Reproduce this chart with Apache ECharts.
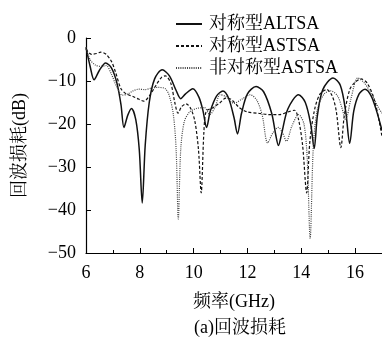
<!DOCTYPE html>
<html>
<head>
<meta charset="utf-8">
<script src="https://cdn.jsdelivr.net/npm/echarts@6/dist/echarts.min.js"></script>
<style>html,body{margin:0;padding:0;background:#fff}#c{width:382px;height:345px}</style>
</head>
<body>
<div id="c"></div>
<script>
var seriesNames = ['对称型ALTSA', '对称型ASTSA', '非对称型ASTSA'];
var xTicks = [6, 8, 10, 12, 14, 16];
var yTicks = [0, -10, -20, -30, -40, -50];

var altsaFreq = [6.0, 6.15, 6.3, 6.5, 6.73, 6.95, 7.15, 7.3, 7.41, 7.55, 7.69, 7.85, 7.98, 8.09, 8.2, 8.35, 8.55, 8.83, 9.1, 9.35, 9.52, 9.7, 9.97, 10.2, 10.35, 10.48, 10.62, 10.85, 11.09, 11.3, 11.5, 11.63, 11.78, 12.0, 12.32, 12.6, 12.9, 13.05, 13.15, 13.28, 13.5, 13.9, 14.15, 14.35, 14.48, 14.6, 14.8, 15.18, 15.45, 15.65, 15.8, 15.95, 16.15, 16.37, 16.6, 16.8, 17.0];
var altsaRL = [-2.2, -6.5, -9.7, -7.5, -5.8, -7.0, -10.5, -15.5, -20.8, -18.0, -16.4, -19.0, -26, -38.4, -25, -15, -9.5, -7.4, -8.8, -12.2, -14.1, -13.0, -11.8, -13.8, -17, -20.8, -17, -13.5, -12.3, -14, -18.5, -22.3, -17.5, -13, -11.3, -12.5, -17.5, -22.5, -25.0, -22, -16.5, -13.2, -15, -20, -25.7, -18, -12, -9.3, -11, -17, -24.5, -17, -13, -11.9, -13.5, -17, -21.5];

var astsaFreq = [6.0, 6.2, 6.4, 6.55, 6.75, 6.95, 7.1, 7.3, 7.5, 7.75, 7.95, 8.15, 8.35, 8.6, 8.8, 8.95, 9.15, 9.3, 9.42, 9.55, 9.72, 9.9, 10.05, 10.18, 10.28, 10.38, 10.47, 10.7, 10.95, 11.2, 11.4, 11.7, 12.0, 12.4, 12.8, 13.2, 13.5, 13.75, 13.9, 14.05, 14.2, 14.32, 14.5, 14.7, 14.95, 15.15, 15.3, 15.47, 15.6, 15.8, 16.0, 16.22, 16.45, 16.7, 16.9, 17.0];
var astsaRL = [-2.6, -3.8, -3.6, -3.3, -3.8, -5.5, -8.0, -11.8, -13.0, -13.6, -14.2, -14.7, -13.5, -11.0, -9.2, -8.8, -10.5, -15, -17.5, -16, -15.3, -16.5, -19.5, -26, -36, -22, -17, -16.3, -15.2, -14, -14.3, -16.2, -17.2, -17.5, -17.8, -17.8, -17.2, -16.8, -19, -25, -36, -24, -16.5, -13, -12, -13.5, -17, -25.5, -18, -12, -10.3, -9.5, -10.5, -14, -19.5, -23];

var asymFreq = [6.0, 6.15, 6.35, 6.55, 6.75, 6.95, 7.15, 7.35, 7.55, 7.75, 7.95, 8.2, 8.45, 8.7, 8.95, 9.1, 9.25, 9.35, 9.43, 9.52, 9.65, 9.85, 10.1, 10.4, 10.6, 10.8, 10.98, 11.2, 11.5, 11.8, 12.1, 12.35, 12.55, 12.75, 12.95, 13.15, 13.3, 13.45, 13.65, 13.9, 14.1, 14.22, 14.33, 14.45, 14.6, 14.85, 15.1, 15.35, 15.5, 15.65, 15.85, 16.1, 16.35, 16.6, 16.85, 17.0];
var asymRL = [-2.2, -5, -6.3, -6.6, -6.4, -8.5, -11.5, -13.3, -13.0, -12.3, -11.9, -12.0, -11.6, -11.5, -11.8, -13.5, -18, -26, -42.1, -26, -19.5, -17.2, -16.4, -16.2, -17.8, -16, -13.2, -13.6, -15.2, -14.2, -13.2, -14.5, -18, -24.4, -22, -20.8, -22, -24, -20.5, -17.8, -20, -28, -46.6, -25, -16.5, -13, -12.3, -13.5, -16, -19, -14, -9.3, -10.5, -13, -16, -17.5];

function zip(xs, ys) { return xs.map(function (x, i) { return [x, ys[i]]; }); }

var FONT = "'Liberation Serif', 'Noto Serif CJK SC', 'Noto Sans CJK SC', serif";
var chart = echarts.init(document.getElementById('c'), null, { renderer: 'canvas' });

function mk(name, data, type, width, color) {
  return {
    name: name, type: 'line', data: data, symbol: 'none', smooth: 0.3,
    lineStyle: { color: color, width: width, type: type },
    itemStyle: { color: color },
    emphasis: { disabled: true }, animation: false
  };
}

chart.setOption({
  animation: false,
  backgroundColor: '#fff',
  textStyle: { fontFamily: FONT, color: '#000' },
  grid: { left: 86, right: 0, top: 38, bottom: 92, containLabel: false },
  title: {
    text: '(a)回波损耗', left: 235, top: 314, textAlign: 'center',
    textStyle: { fontFamily: FONT, fontSize: 18, fontWeight: 'normal', color: '#000' }
  },
  legend: {
    orient: 'vertical', left: 170, top: 10, itemWidth: 26, itemHeight: 10, itemGap: 4,
    data: seriesNames,
    itemStyle: { opacity: 0 },
    textStyle: { fontFamily: FONT, fontSize: 18, color: '#000', padding: [0, 0, 0, 2] }
  },
  xAxis: {
    type: 'value', min: 6, max: 17, interval: 2,
    name: '频率(GHz)', nameLocation: 'middle', nameGap: 40,
    nameTextStyle: { fontFamily: FONT, fontSize: 18, color: '#000' },
    axisLine: { show: true, onZero: false, lineStyle: { color: '#000', width: 1.2 } },
    axisTick: { show: true, inside: true, length: 5, lineStyle: { color: '#000' } },
    minorTick: { show: true, splitNumber: 2, length: 3, lineStyle: { color: '#000' } },
    splitLine: { show: false },
    axisLabel: {
      fontFamily: FONT, fontSize: 18, color: '#000', margin: 11, showMaxLabel: false,
      formatter: function (v) { return xTicks.indexOf(v) >= 0 ? String(v) : ''; }
    }
  },
  yAxis: {
    type: 'value', min: -50, max: 0, interval: 10,
    name: '回波损耗(dB)', nameLocation: 'middle', nameGap: 57,
    nameTextStyle: { fontFamily: FONT, fontSize: 18, color: '#000' },
    axisLine: { show: true, lineStyle: { color: '#000', width: 1.2 } },
    axisTick: { show: true, inside: true, length: 5, lineStyle: { color: '#000' } },
    splitLine: { show: false },
    axisLabel: {
      fontFamily: FONT, fontSize: 18, color: '#000', margin: 10,
      formatter: function (v) { return yTicks.indexOf(v) >= 0 ? String(v).replace('-', '\u2212') : ''; }
    }
  },
  series: [
    mk(seriesNames[0], zip(altsaFreq, altsaRL), 'solid', 1.5, '#111'),
    mk(seriesNames[1], zip(astsaFreq, astsaRL), [3, 2], 1.2, '#111'),
    mk(seriesNames[2], zip(asymFreq, asymRL), [1, 1.2], 1.2, '#444')
  ]
});
</script>
</body>
</html>
